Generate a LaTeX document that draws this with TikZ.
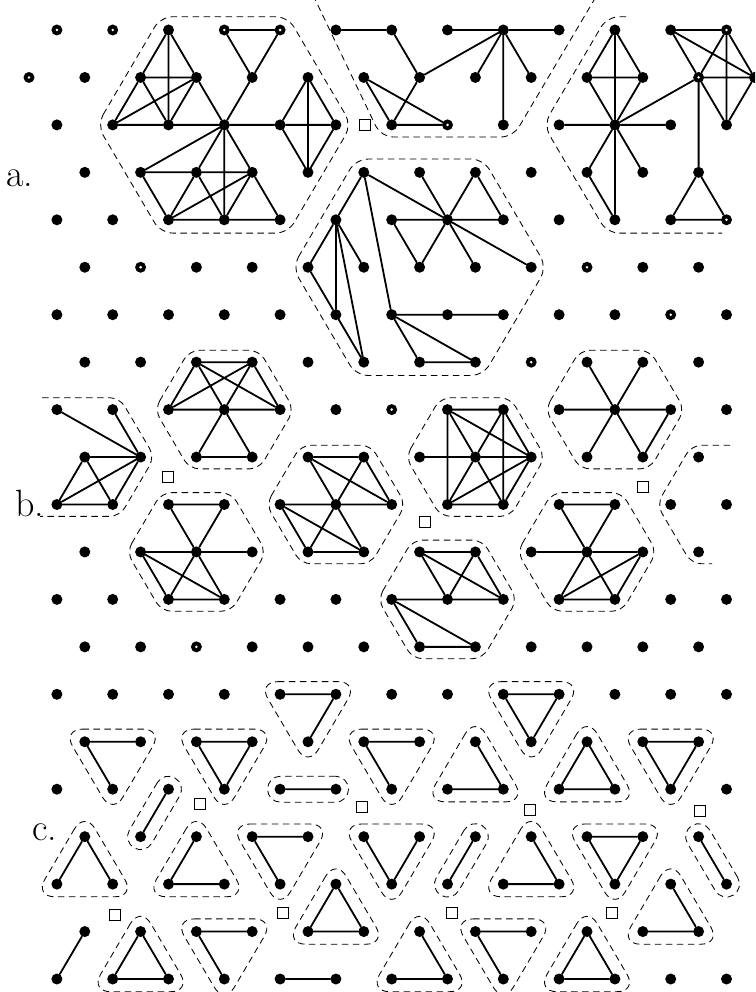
\documentclass[tikz,border=0pt]{standalone}
\usepackage{fontspec}
\usetikzlibrary{calc}
\tikzset{
 dot/.style={circle, fill=black, inner sep=0pt, minimum size=11pt},
 hole/.style={circle, fill=white, inner sep=0pt, minimum size=2.8pt},
 bond/.style={line width=1.8pt, line cap=round},
 outl/.style={line width=0.85pt, dash pattern=on 6.5pt off 4.5pt},
 hexa/.style={outl, rounded corners=12pt},
 hexb/.style={outl, rounded corners=10pt},
 trio/.style={outl, rounded corners=20pt},
 capsule/.style={draw, outl, rectangle, rounded corners=13pt, minimum width=81pt, minimum height=26pt, inner sep=0pt},
 sq/.style={draw, line width=1.3pt, rectangle, minimum size=11pt, inner sep=0pt, fill=white},
 lab/.style={font=\fontsize{38}{40}\selectfont, inner sep=0pt},
}
\newcommand\hexout[9]{\draw[#1] ($(#2)!#3!(#4)$) -- ($(#2)!#3!(#5)$) -- ($(#2)!#3!(#6)$) -- ($(#2)!#3!(#7)$) -- ($(#2)!#3!(#8)$) -- ($(#2)!#3!(#9)$) -- cycle;}
\newcommand\triout[4]{\coordinate (#1) at (barycentric cs:#2=1,#3=1,#4=1);
 \draw[trio] ($(#1)!1.8!(#2)$) -- ($(#1)!1.8!(#3)$) -- ($(#1)!1.8!(#4)$) -- cycle;}
\newcommand\capout[3]{\path (#2) -- node[capsule, sloped, name=#1] {} (#3);}
\begin{document}
\begin{tikzpicture}[x=1pt, y=-1pt]
\useasboundingbox (0,0) rectangle (755,992);
\clip (0,0) rectangle (755,992);
\fill[white] (0,0) rectangle (755,992);
% lattice dots
\foreach \r in {0,2,...,20}{\foreach \c in {1,3,...,25}{\node[dot] (n\c-\r) at ({29+27.9*\c},{30+47.45*\r}) {};}}
\foreach \c in {0,2,...,26}{\node[dot] (n\c-1) at ({29+27.9*\c},{30+47.45}) {};}
\foreach \r in {3,5,...,19}{\foreach \c in {2,4,...,24}{\node[dot] (n\c-\r) at ({29+27.9*\c},{30+47.45*\r}) {};}}
% labels
\node[lab] (la) at (20,178) {a.};
\node[lab] (lb) at (30,503) {b.};
\node[lab] (lc) at (45,832) {c.};
% vacancies
\node[sq] (s1) at (365,125) {};
\node[sq] (s2) at (168,477) {};
\node[sq] (s3) at (425,522) {};
\node[sq] (s4) at (643,487) {};
\node[sq] (s5) at (200,804) {};
\node[sq] (s6) at (362,807) {};
\node[sq] (s7) at (530,810) {};
\node[sq] (s8) at (700,811) {};
\node[sq] (s9) at (115,915) {};
\node[sq] (s10) at (283,913) {};
\node[sq] (s11) at (452,913) {};
\node[sq] (s12) at (612,913) {};
% section a outlines
\hexout{hexa}{n7-2}{1.14}{n3-2}{n5-0}{n9-0}{n11-2}{n9-4}{n5-4}
\hexout{hexa}{n14-5}{1.14}{n10-5}{n12-3}{n16-3}{n18-5}{n16-7}{n12-7}
\draw[hexa] (313,-5) -- (381,137) -- (513,137) -- (597,-5);
\draw[hexa] (626,16.7) -- (607.1,16.7) -- (543.5,124.9) -- (607.1,233.1) -- (722,233.1);
% section b outlines
\draw[hexb] (42,397.7) -- (119.7,397.7) -- (154.6,457) -- (119.7,516.4) -- (40,516.4);
\draw[hexb] (730,445.2) -- (691.6,445.2) -- (656.8,504.5) -- (691.6,563.8) -- (712,563.8);
\hexout{hexb}{n7-8}{1.25}{n5-8}{n6-7}{n8-7}{n9-8}{n8-9}{n6-9}
\hexout{hexb}{n6-11}{1.25}{n4-11}{n5-10}{n7-10}{n8-11}{n7-12}{n5-12}
\hexout{hexb}{n11-10}{1.25}{n9-10}{n10-9}{n12-9}{n13-10}{n12-11}{n10-11}
\hexout{hexb}{n16-9}{1.25}{n14-9}{n15-8}{n17-8}{n18-9}{n17-10}{n15-10}
\hexout{hexb}{n21-8}{1.25}{n19-8}{n20-7}{n22-7}{n23-8}{n22-9}{n20-9}
\hexout{hexb}{n20-11}{1.25}{n18-11}{n19-10}{n21-10}{n22-11}{n21-12}{n19-12}
\hexout{hexb}{n15-12}{1.25}{n13-12}{n14-11}{n16-11}{n17-12}{n16-13}{n14-13}
% section c outlines
\triout{t1}{n9-14}{n11-14}{n10-15}
\triout{t2}{n2-15}{n4-15}{n3-16}
\triout{t3}{n6-15}{n8-15}{n7-16}
\triout{t6}{n12-15}{n14-15}{n13-16}
\triout{t7}{n17-14}{n19-14}{n18-15}
\triout{t8}{n16-15}{n15-16}{n17-16}
\triout{t9}{n20-15}{n19-16}{n21-16}
\triout{t10}{n22-15}{n24-15}{n23-16}
\triout{t11}{n2-17}{n1-18}{n3-18}
\triout{t12}{n6-17}{n5-18}{n7-18}
\triout{t13}{n8-17}{n10-17}{n9-18}
\triout{t14}{n12-17}{n14-17}{n13-18}
\triout{t16}{n18-17}{n17-18}{n19-18}
\triout{t17}{n20-17}{n22-17}{n21-18}
\triout{t19}{n11-18}{n10-19}{n12-19}
\triout{t20}{n23-18}{n22-19}{n24-19}
\triout{t22}{n4-19}{n3-20}{n5-20}
\triout{t23}{n6-19}{n8-19}{n7-20}
\triout{t25}{n14-19}{n13-20}{n15-20}
\triout{t26}{n16-19}{n18-19}{n17-20}
\triout{t27}{n20-19}{n19-20}{n21-20}
\capout{k1}{n9-16}{n11-16}
\capout{k2}{n5-16}{n4-17}
\capout{k3}{n16-17}{n15-18}
\capout{k4}{n24-17}{n25-18}
% section a bonds
\draw[bond]
 (n5-0)--(n4-1) (n5-0)--(n6-1) (n5-0)--(n5-2) (n4-1)--(n6-1) (n4-1)--(n3-2) (n4-1)--(n5-2)
 (n6-1)--(n3-2) (n6-1)--(n5-2) (n6-1)--(n7-2) (n3-2)--(n5-2) (n5-2)--(n7-2) (n7-2)--(n9-2)
 (n9-2)--(n11-2) (n7-2)--(n8-1) (n8-1)--(n7-0) (n8-1)--(n9-0) (n7-0)--(n9-0)
 (n10-1)--(n9-2) (n10-1)--(n11-2) (n10-1)--(n10-3) (n9-2)--(n10-3) (n11-2)--(n10-3)
 (n7-2)--(n4-3) (n7-2)--(n6-3) (n7-2)--(n8-3) (n7-2)--(n7-4) (n4-3)--(n6-3) (n6-3)--(n8-3)
 (n4-3)--(n5-4) (n6-3)--(n5-4) (n6-3)--(n7-4) (n8-3)--(n5-4) (n8-3)--(n7-4) (n8-3)--(n9-4)
 (n5-4)--(n7-4) (n7-4)--(n9-4)
 (n11-0)--(n13-0) (n13-0)--(n14-1) (n14-1)--(n17-0) (n15-0)--(n17-0) (n17-0)--(n19-0)
 (n17-0)--(n16-1) (n17-0)--(n18-1) (n17-0)--(n17-2) (n14-1)--(n13-2) (n12-1)--(n13-2)
 (n12-1)--(n15-2) (n13-2)--(n15-2)
 (n21-0)--(n20-1) (n21-0)--(n22-1) (n21-0)--(n21-2) (n20-1)--(n22-1) (n20-1)--(n21-2)
 (n22-1)--(n21-2) (n19-2)--(n21-2) (n21-2)--(n23-2) (n21-2)--(n20-3) (n21-2)--(n22-3)
 (n21-2)--(n21-4) (n20-3)--(n21-4) (n21-2)--(n24-1) (n23-0)--(n25-0) (n23-0)--(n24-1)
 (n23-0)--(n26-1) (n25-0)--(n24-1) (n25-0)--(n26-1) (n25-0)--(n25-2) (n24-1)--(n26-1)
 (n24-1)--(n25-2) (n26-1)--(n25-2) (n24-1)--(n24-3) (n24-3)--(n23-4) (n24-3)--(n25-4)
 (n23-4)--(n25-4)
 (n12-3)--(n11-4) (n12-3)--(n15-4) (n12-3)--(n13-6) (n14-3)--(n15-4) (n16-3)--(n15-4)
 (n16-3)--(n17-4) (n13-4)--(n15-4) (n15-4)--(n17-4) (n13-4)--(n14-5) (n15-4)--(n14-5)
 (n15-4)--(n16-5) (n15-4)--(n18-5) (n11-4)--(n10-5) (n11-4)--(n11-6) (n11-4)--(n12-5)
 (n11-4)--(n12-7) (n10-5)--(n11-6) (n11-6)--(n12-7) (n13-6)--(n15-6) (n15-6)--(n17-6)
 (n13-6)--(n14-7) (n13-6)--(n16-7) (n14-7)--(n16-7);
% section b bonds
\draw[bond]
 (n4-9)--(n1-8) (n4-9)--(n3-8) (n4-9)--(n2-9) (n4-9)--(n1-10) (n4-9)--(n3-10)
 (n2-9)--(n1-10) (n2-9)--(n3-10) (n1-10)--(n3-10)
 (n6-7)--(n8-7) (n6-7)--(n5-8) (n8-7)--(n5-8) (n6-7)--(n9-8) (n8-7)--(n9-8) (n6-7)--(n7-8)
 (n7-8)--(n8-9) (n8-7)--(n7-8) (n7-8)--(n6-9) (n5-8)--(n7-8) (n7-8)--(n9-8) (n6-9)--(n8-9)
 (n5-10)--(n7-10) (n5-10)--(n6-11) (n6-11)--(n7-12) (n7-10)--(n6-11) (n6-11)--(n5-12)
 (n4-11)--(n6-11) (n6-11)--(n8-11) (n4-11)--(n5-12) (n4-11)--(n7-12) (n5-12)--(n7-12)
 (n10-9)--(n12-9) (n10-9)--(n11-10) (n11-10)--(n12-11) (n10-9)--(n13-10) (n12-9)--(n11-10)
 (n11-10)--(n10-11) (n12-9)--(n13-10) (n9-10)--(n11-10) (n11-10)--(n13-10) (n9-10)--(n12-11)
 (n9-10)--(n10-11) (n10-11)--(n12-11)
 (n15-8)--(n17-8) (n15-8)--(n15-10) (n17-8)--(n17-10) (n15-8)--(n18-9) (n15-8)--(n16-9)
 (n16-9)--(n17-10) (n17-8)--(n16-9) (n16-9)--(n15-10) (n14-9)--(n16-9) (n16-9)--(n18-9)
 (n17-8)--(n18-9) (n18-9)--(n15-10) (n18-9)--(n17-10) (n15-10)--(n17-10)
 (n20-7)--(n21-8) (n21-8)--(n22-9) (n22-7)--(n21-8) (n21-8)--(n20-9) (n19-8)--(n21-8)
 (n21-8)--(n23-8) (n23-8)--(n22-9)
 (n19-10)--(n21-10) (n19-10)--(n20-11) (n20-11)--(n21-12) (n21-10)--(n20-11) (n20-11)--(n19-12)
 (n18-11)--(n20-11) (n20-11)--(n22-11) (n22-11)--(n19-12) (n22-11)--(n21-12) (n19-12)--(n21-12)
 (n14-11)--(n16-11) (n14-11)--(n15-12) (n14-11)--(n17-12) (n16-11)--(n15-12) (n16-11)--(n17-12)
 (n13-12)--(n15-12) (n15-12)--(n17-12) (n13-12)--(n14-13) (n13-12)--(n16-13) (n14-13)--(n16-13);
% section c bonds
\draw[bond]
 (n9-14)--(n11-14) (n11-14)--(n10-15)
 (n2-15)--(n4-15) (n2-15)--(n3-16)
 (n6-15)--(n8-15) (n6-15)--(n7-16) (n8-15)--(n7-16)
 (n9-16)--(n11-16)
 (n5-16)--(n4-17)
 (n12-15)--(n14-15) (n12-15)--(n13-16)
 (n17-14)--(n19-14) (n17-14)--(n18-15) (n19-14)--(n18-15)
 (n16-15)--(n17-16) (n15-16)--(n17-16)
 (n20-15)--(n19-16) (n20-15)--(n21-16) (n19-16)--(n21-16)
 (n22-15)--(n24-15) (n22-15)--(n23-16) (n24-15)--(n23-16)
 (n2-17)--(n1-18) (n2-17)--(n3-18)
 (n6-17)--(n5-18) (n5-18)--(n7-18)
 (n8-17)--(n10-17) (n8-17)--(n9-18)
 (n12-17)--(n13-18) (n14-17)--(n13-18)
 (n16-17)--(n15-18)
 (n18-17)--(n19-18) (n17-18)--(n19-18)
 (n20-17)--(n22-17) (n20-17)--(n21-18) (n22-17)--(n21-18)
 (n24-17)--(n25-18)
 (n11-18)--(n10-19) (n11-18)--(n12-19) (n10-19)--(n12-19)
 (n23-18)--(n24-19) (n22-19)--(n24-19)
 (n2-19)--(n1-20)
 (n4-19)--(n3-20) (n4-19)--(n5-20) (n3-20)--(n5-20)
 (n6-19)--(n8-19) (n6-19)--(n7-20)
 (n9-20)--(n11-20)
 (n14-19)--(n15-20) (n13-20)--(n15-20)
 (n16-19)--(n18-19) (n16-19)--(n17-20)
 (n20-19)--(n19-20) (n20-19)--(n21-20) (n19-20)--(n21-20);
% open dots
\foreach \p in {1-0,3-0,0-1,7-0,9-0,15-2,4-5,25-0,24-1,25-4,20-5,23-6,13-8,18-7,6-13}{\node[hole] (h\p) at (n\p) {};}
\end{tikzpicture}
\end{document}
